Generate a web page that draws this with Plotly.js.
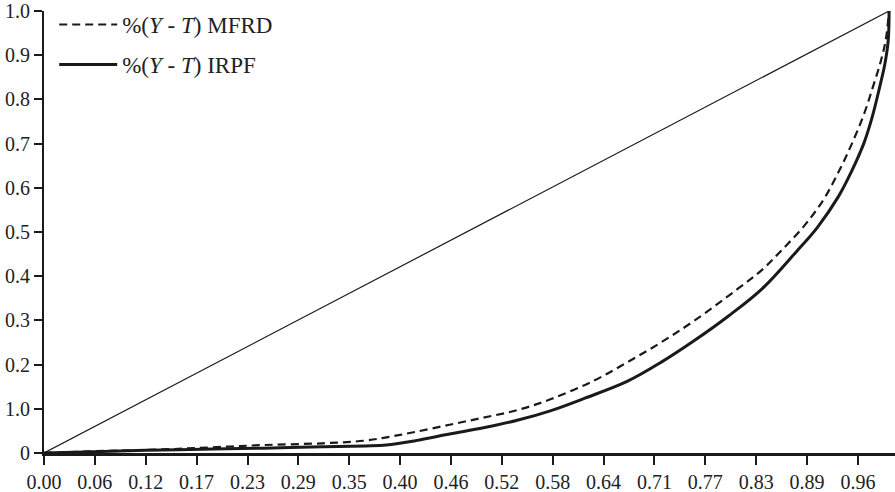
<!DOCTYPE html>
<html>
<head>
<meta charset="utf-8">
<script src="https://cdn.plot.ly/plotly-3.0.1.min.js"></script>
<style>html,body{margin:0;padding:0;background:#fff;}#chart{width:895px;height:492px;}</style>
</head>
<body>
<div id="chart"></div>
<script>
// Data
const xTickLabels = ["0.00","0.06","0.12","0.17","0.23","0.29","0.35","0.40","0.46","0.52","0.58","0.64","0.71","0.77","0.83","0.89","0.96"];
const yTickValues = [0,0.1,0.2,0.3,0.4,0.5,0.6,0.7,0.8,0.9,1.0];
const yTickLabels = ["0","1.0","0.2","0.3","0.4","0.5","0.6","0.7","0.8","0.9","1.0"];

const xEquality = [0, 1];
const yEquality = [0, 1];

const xMFRD = [0, 0.06, 0.14, 0.20, 0.26, 0.33, 0.38, 0.41, 0.44, 0.48, 0.52, 0.56, 0.60, 0.65, 0.69, 0.73, 0.77, 0.82, 0.85, 0.873, 0.90, 0.922, 0.94, 0.956, 0.97, 0.981, 0.99, 0.996, 1.0];
const yMFRD = [0, 0.004, 0.008, 0.013, 0.018, 0.022, 0.028, 0.037, 0.048, 0.064, 0.080, 0.097, 0.122, 0.163, 0.205, 0.25, 0.30, 0.37, 0.415, 0.459, 0.515, 0.572, 0.635, 0.70, 0.765, 0.829, 0.885, 0.934, 1.0];

const xIRPF = [0, 0.06, 0.12, 0.20, 0.26, 0.33, 0.38, 0.405, 0.44, 0.48, 0.52, 0.56, 0.60, 0.64, 0.69, 0.73, 0.77, 0.81, 0.85, 0.89, 0.915, 0.94, 0.955, 0.97, 0.98, 0.989, 0.995, 0.999, 1.0];
const yIRPF = [0, 0.003, 0.006, 0.009, 0.011, 0.014, 0.016, 0.018, 0.028, 0.043, 0.057, 0.074, 0.096, 0.124, 0.162, 0.205, 0.255, 0.31, 0.372, 0.455, 0.51, 0.58, 0.635, 0.70, 0.76, 0.829, 0.88, 0.934, 1.0];

const labelMFRD = "%(<i>Y</i> - <i>T</i>) MFRD";
const labelIRPF = "%(<i>Y</i> - <i>T</i>) IRPF";

const tickStep = 0.0602;
const xTickValues = xTickLabels.map((_, i) => i * tickStep);

const serif = "Liberation Serif, DejaVu Serif, serif";

const traces = [
  {x: xEquality, y: yEquality, mode: "lines", line: {color: "#1a1a1a", width: 1.2}, showlegend: false, hoverinfo: "skip"},
  {x: xMFRD, y: yMFRD, mode: "lines", name: labelMFRD, legendgroup: "a",
   line: {color: "#1a1a1a", width: 2.2, dash: "8px,5px", shape: "spline", smoothing: 1}},
  {x: xIRPF, y: yIRPF, mode: "lines", name: labelIRPF, legendgroup: "b",
   line: {color: "#1a1a1a", width: 3, shape: "spline", smoothing: 1}}
];

const layout = {
  width: 895, height: 492,
  margin: {l: 44, r: 0, t: 11, b: 39},
  paper_bgcolor: "#fff", plot_bgcolor: "#fff",
  font: {family: serif, color: "#222", size: 20},
  showlegend: true,
  legend: {x: 0.012, y: 1.018, xanchor: "left", yanchor: "top", bgcolor: "rgba(0,0,0,0)",
           font: {family: serif, size: 23, color: "#222"}, tracegroupgap: 7, itemwidth: 58},
  xaxis: {range: [0, 1.007], showgrid: false, zeroline: false, showline: true, linecolor: "#1a1a1a", linewidth: 3,
          ticks: "outside", ticklen: 9, tickwidth: 2, tickcolor: "#1a1a1a",
          tickvals: xTickValues, ticktext: xTickLabels, tickfont: {family: serif, size: 20, color: "#222"}, fixedrange: true},
  yaxis: {range: [0, 1.0], showgrid: false, zeroline: false, showline: true, linecolor: "#1a1a1a", linewidth: 2,
          ticks: "outside", ticklen: 8, tickwidth: 2, tickcolor: "#1a1a1a",
          tickvals: yTickValues, ticktext: yTickLabels, tickfont: {family: serif, size: 20, color: "#222"}, fixedrange: true}
};

Plotly.newPlot("chart", traces, layout, {displayModeBar: false, staticPlot: true});
</script>
</body>
</html>
